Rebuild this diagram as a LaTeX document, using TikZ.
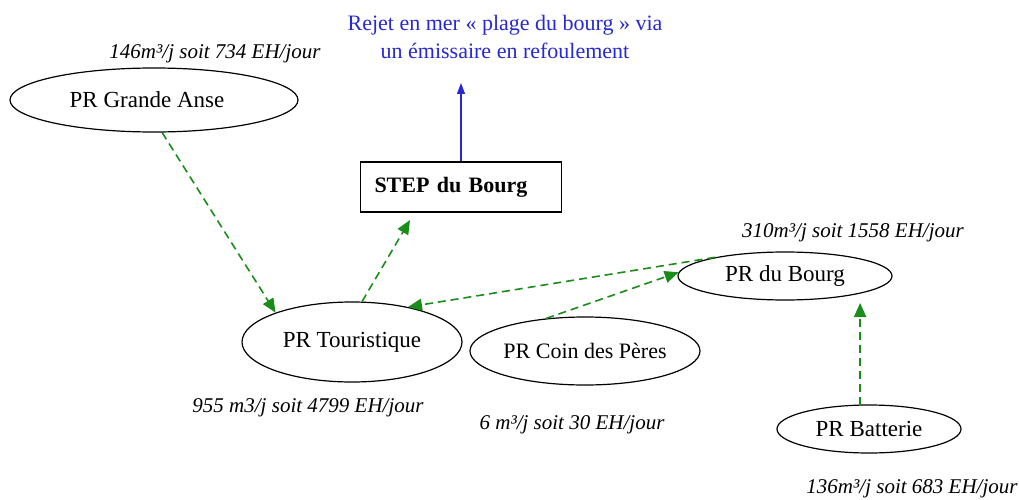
\documentclass[tikz,border=0pt]{standalone}
\usepackage{fontspec}
\setmainfont{Liberation Serif}
\usetikzlibrary{arrows.meta,shapes.geometric}
\definecolor{flowgreen}{RGB}{25,140,25}
\definecolor{seablue}{RGB}{40,40,210}
\begin{document}
\begin{tikzpicture}[x=1pt,y=-1pt,
  station/.style={draw,ellipse,line width=1.2pt,inner sep=0pt,
    font=\fontsize{23}{27}\selectfont},
  flowinfo/.style={font=\fontsize{21}{25}\selectfont\itshape},
  flow/.style={draw=flowgreen,line width=1.6pt,dash pattern=on 8pt off 5pt,
    -{Triangle[length=14pt,width=12pt,fill=flowgreen]}},
  outlet/.style={draw=seablue,line width=1.2pt,
    -{Triangle[length=11pt,width=8pt,fill=seablue]}}]
\useasboundingbox (0,0) rectangle (1019,500);

% treatment plant and outfall
\node[draw,line width=1.4pt,minimum width=201pt,minimum height=50pt,
  text width=173pt,inner xsep=14pt,align=left,
  font=\fontsize{22}{26}\selectfont\bfseries] (step) at (461,187) {STEP du Bourg};
\node[text=seablue,align=center,font=\fontsize{22}{28}\selectfont] (rejet) at (505,37)
  {Rejet en mer « plage du bourg » via\\un émissaire en refoulement};
\coordinate (mer) at (461,83);

% pumping stations
\node[station,minimum width=288pt,minimum height=64pt] (ga) at (154,100) {PR Grande Anse\hspace*{14pt}};
\node[station,minimum width=220pt,minimum height=80pt] (tour) at (352,342) {PR Touristique};
\node[station,minimum width=230pt,minimum height=68pt,inner xsep=-4pt,
  font=\fontsize{22}{26}\selectfont] (coin) at (585,351) {PR Coin des Pères};
\node[station,minimum width=214pt,minimum height=48pt] (bourg) at (785,276) {PR du Bourg};
\node[station,minimum width=184pt,minimum height=48pt] (bat) at (869,429) {PR Batterie};

% flow figures
\node[flowinfo] (qga) at (215,54) {146m³/j soit 734 EH/jour};
\node[flowinfo] (qtour) at (308,408) {955 m3/j soit 4799 EH/jour};
\node[flowinfo] (qcoin) at (572,425) {6 m³/j soit 30 EH/jour};
\node[flowinfo] (qbourg) at (853,233) {310m³/j soit 1558 EH/jour};
\node[flowinfo] (qbat) at (912,489) {136m³/j soit 683 EH/jour};

% free ends of connectors
\coordinate (stepin) at (410,220);
\coordinate (bourgin) at (860,303);

% connections
\draw[outlet] (step.north) -- (mer);
\draw[flow] (ga.-76) -- (tour.159);
\draw[flow] (tour.76) -- (stepin);
\draw[flow] (bourg.165) -- (tour.32);
\draw[flow] (coin.140) -- (bourg.178);
\draw[flow] (bat.110) -- (bat.110 |- bourgin);
\end{tikzpicture}
\end{document}
